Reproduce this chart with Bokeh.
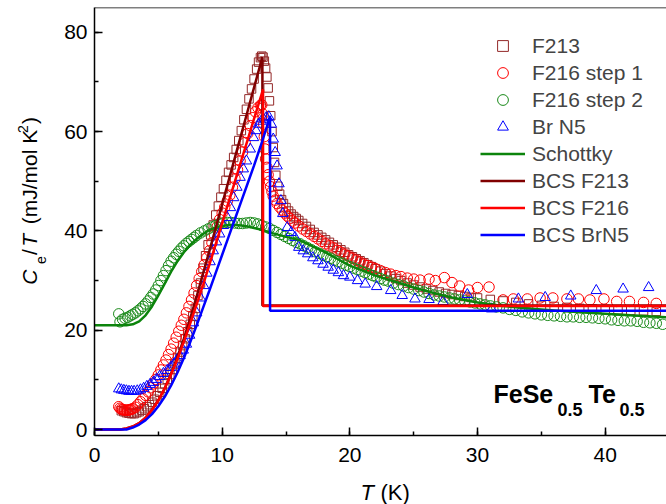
import math
from bokeh.plotting import figure
from bokeh.layouts import row, column
from bokeh.models import (Label, Legend, LegendItem, Span, SingleIntervalTicker)
from bokeh.embed import file_html
from bokeh.resources import INLINE

# ---------------- data ----------------
f213_T = [2.1, 2.3, 2.5, 2.7, 2.9, 3.1, 3.3, 3.5, 3.7, 3.9, 4.1, 4.3, 4.5, 4.7, 4.9, 5.1, 5.3, 5.5, 5.7, 5.9,
          6.1, 6.3, 6.5, 6.7, 6.9, 7.1, 7.3, 7.5, 7.7, 7.9, 8.1, 8.3, 8.5, 8.7, 8.9, 9.1, 9.3, 9.5, 9.7, 9.9,
          10.1, 10.3, 10.5, 10.7, 10.9, 11.1, 11.3, 11.5, 11.7, 11.9, 12.1, 12.3, 12.5, 12.7, 12.85, 13.0, 13.1,
          13.2, 13.3, 13.4, 13.5, 13.6, 13.7, 13.8, 13.9, 14.0, 14.1, 14.2, 14.35, 14.5, 14.65, 14.8, 15.0, 15.2,
          15.4, 15.6, 15.8, 16.0, 16.3, 16.6, 16.9, 17.2, 17.5, 17.8, 18.1, 18.4, 18.7, 19.0, 19.3, 19.6, 19.9,
          20.2, 20.5, 20.8, 21.1, 21.4, 21.7, 22.0, 22.4, 22.8, 23.2, 23.6, 24.0, 24.5, 25.0, 25.5, 26.0, 26.5,
          27.0, 27.5, 28.0, 28.5, 29.0, 29.5, 30.0, 31.0, 32.0, 33.0, 34.0, 35.0, 36.0, 37.0, 38.0, 39.0, 40.0,
          41.0, 42.0, 43.0, 44.0]
f213_C = [3.8, 3.6, 3.4, 3.3, 3.2, 3.2, 3.4, 3.6, 3.9, 4.2, 4.6, 5.0, 5.5, 6.1, 6.8, 7.5, 8.3, 9.2, 10.1, 11.1,
          12.1, 13.2, 14.4, 15.6, 16.9, 18.3, 19.7, 21.2, 22.8, 24.4, 27.0, 29.5, 32.5, 35.0, 37.2, 39.2, 41.2,
          43.2, 45.0, 46.8, 48.5, 50.2, 51.8, 53.3, 54.8, 56.4, 58.2, 60.2, 62.4, 64.5, 66.6, 68.6, 70.6, 72.6,
          74.0, 74.9, 75.2,
          75.0, 74.2, 72.8, 71.0, 68.8, 66.2, 63.2, 60.0, 56.8, 53.8, 51.2, 49.0, 47.4, 46.3, 45.5, 44.7, 44.0,
          43.4, 42.9, 42.5, 42.1, 41.5, 40.9, 40.3, 39.7, 39.2, 38.7, 38.2, 37.7, 37.2, 36.7, 36.2, 35.7, 35.2,
          34.8, 34.4, 34.0, 33.6, 33.2, 32.8, 32.4, 31.9, 31.4, 30.9, 30.4, 30.0, 29.5, 29.1, 28.7, 28.3, 28.0,
          27.7, 27.4, 27.2, 27.0, 26.8, 26.6, 26.5, 26.2, 25.9, 25.6, 25.3, 25.0, 24.8, 24.6, 24.4, 24.3, 24.2,
          24.1, 24.0, 23.9, 23.8]

s1_T = [1.9, 2.0, 2.1, 2.2, 2.3, 2.4, 2.5, 2.6, 2.7, 2.8, 2.9, 3.0, 3.2, 3.4, 3.6, 3.8, 4.0, 4.2, 4.4, 4.6,
        4.8, 5.0, 5.2, 5.4, 5.6, 5.8, 6.0, 6.2, 6.4, 6.6, 6.8, 7.0, 7.2, 7.4, 7.6, 7.8, 8.0, 8.2, 8.4, 8.6,
        8.8, 9.0, 9.2, 9.4, 9.6, 9.8, 10.0, 10.2, 10.4, 10.6, 10.8, 11.0, 11.2, 11.4, 11.6, 11.8, 12.0, 12.2,
        12.4, 12.6, 12.8, 13.0, 13.1,
        13.2, 13.25, 13.3, 13.35, 13.4, 13.5, 13.6, 13.7, 13.8, 13.9, 14.0, 14.15, 14.3, 14.5, 14.7, 14.9,
        15.1, 15.3, 15.5, 15.7, 16.0, 16.3, 16.6, 16.9, 17.2, 17.5, 17.8, 18.1, 18.4, 18.7, 19.0, 19.3, 19.6,
        19.9, 20.2, 20.5, 20.8, 21.1, 21.4, 21.7, 22.0, 22.4, 22.8, 23.2, 23.6, 24.0, 24.5, 25.0, 25.5, 26.2,
        26.7, 27.4, 28.0, 28.6, 29.3, 30.0, 30.9, 32.0, 32.8, 33.9, 34.9, 35.9, 37.0, 37.9, 38.8, 39.9, 40.9,
        41.9, 43.0, 44.0]
s1_C = [4.6, 4.3, 4.1, 4.0, 3.95, 3.9, 3.9, 3.9, 3.95, 4.0, 4.1, 4.2, 4.5, 5.0, 5.6, 6.2, 6.9, 7.6, 8.4, 9.2,
        10.1, 11.0, 12.0, 13.0, 14.0, 15.1, 16.2, 17.4, 18.6, 19.8, 21.0, 22.2, 23.5, 24.8, 26.1, 27.5, 29.0,
        30.4, 31.8, 33.2, 34.6, 36.0, 37.6, 39.2, 40.8, 42.3, 43.6, 44.8, 46.0, 47.2, 48.8, 50.5, 52.3, 54.1,
        55.9, 57.8, 59.6, 61.2, 62.8, 64.0, 64.8, 65.3, 65.4,
        63.5, 61.5, 59.0, 56.5, 54.5, 52.8, 51.3, 50.0, 48.9, 47.9, 47.0, 46.2, 45.5, 44.8, 44.2, 43.6, 43.0,
        42.5, 42.0, 41.6, 41.0, 40.4, 39.9, 39.4, 38.9, 38.4, 37.9, 37.4, 37.0, 36.6, 36.1, 35.7, 35.3, 34.9,
        34.5, 34.1, 33.7, 33.3, 33.0, 32.7, 32.4, 32.0, 31.6, 31.3, 31.0, 30.8, 30.5, 30.3, 30.1, 30.3, 30.0,
        30.6, 29.6, 28.9, 28.1, 28.6, 28.7, 26.1, 26.3, 26.3, 26.5, 26.5, 26.3, 26.3, 26.1, 26.3, 25.8, 25.8,
        25.6, 25.4]

s2_T = [1.9, 2.0, 2.2, 2.4, 2.6, 2.8, 3.0, 3.2, 3.4, 3.6, 3.8, 4.0, 4.2, 4.4, 4.6, 4.8, 5.0, 5.2, 5.4, 5.6,
        5.8, 6.0, 6.2, 6.4, 6.6, 6.8, 7.0, 7.2, 7.4, 7.6, 7.8, 8.0, 8.3, 8.6, 8.9, 9.2, 9.5, 9.8, 10.1, 10.4,
        10.7, 11.0, 11.3, 11.6, 11.9, 12.2, 12.5, 12.8, 13.1, 13.4, 13.7, 14.0, 14.3, 14.6, 14.9, 15.2, 15.5,
        15.8, 16.1, 16.4, 16.7, 17.0, 17.3, 17.6, 17.9, 18.2, 18.5, 18.8, 19.1, 19.4, 19.7, 20.0, 20.3, 20.6,
        20.9, 21.2, 21.5, 21.8, 22.1, 22.4, 22.7, 23.0, 23.4, 23.8, 24.2, 24.6, 25.0, 25.4, 25.8, 26.2, 26.6,
        27.0, 27.4, 27.8, 28.2, 28.6, 29.0, 29.4, 29.8, 30.2, 30.6, 31.0, 31.5, 32.0, 32.5, 33.0, 33.5, 34.0,
        34.5, 35.0, 35.5, 36.0, 36.5, 37.0, 37.5, 38.0, 38.5, 39.0, 39.5, 40.0, 40.5, 41.0, 41.5, 42.0, 42.5,
        43.0, 43.5, 44.0, 44.5]
s2_C = [23.3, 21.7, 22.2, 22.4, 22.6, 22.9, 23.2, 23.5, 23.9, 24.3, 24.8, 25.3, 25.9, 26.6, 27.3, 28.1, 29.0,
        30.0, 31.0, 32.0, 33.0, 33.9, 34.6, 35.3, 35.9, 36.5, 37.0, 37.5, 37.9, 38.3, 38.7, 39.1, 39.6, 40.0,
        40.4, 40.8, 41.1, 41.4, 41.6, 41.7, 41.7, 41.6, 41.5, 41.5, 41.6, 41.7, 41.6, 41.4, 41.1, 40.8, 40.5,
        40.1, 39.7, 39.3, 38.9, 38.5, 38.1, 37.7, 37.4, 37.0, 36.6, 36.2, 35.8, 35.5, 35.1, 34.8, 34.5, 34.1,
        33.8, 33.5, 33.1, 32.8, 32.5, 32.2, 31.9, 31.6, 31.3, 31.0, 30.7, 30.4, 30.1, 29.9, 29.5, 29.2, 28.9,
        28.6, 28.3, 28.0, 27.7, 27.4, 27.1, 26.9, 26.7, 26.5, 26.3, 26.1, 25.9, 25.7, 25.5, 25.3, 25.1, 24.9,
        24.7, 24.5, 24.2, 24.0, 23.7, 23.5, 23.3, 23.1, 23.0, 22.9, 22.8, 22.7, 22.7, 22.6, 22.6, 22.5, 22.4,
        22.3, 22.1, 22.0, 21.9, 21.9, 21.8, 21.6, 21.5, 21.4, 21.2]

br_T = [1.9, 2.1, 2.3, 2.5, 2.7, 2.9, 3.1, 3.35, 3.6, 3.85, 4.1, 4.35, 4.6, 4.85, 5.1, 5.4, 5.7, 5.95, 6.2,
        6.45, 6.7, 6.95, 7.2, 7.45, 7.75, 8.0, 8.3, 8.55, 8.8, 9.05, 9.3, 9.55, 9.8, 10.1, 10.4, 10.65, 10.9,
        11.15, 11.4, 11.65, 11.9, 12.2, 12.45, 12.65, 12.85, 13.05, 13.25, 13.45, 13.65, 13.85, 14.0, 14.15,
        14.3, 14.45, 14.6, 14.75, 15.1, 15.4, 15.7, 16.0, 16.35, 16.7, 17.1, 17.5, 17.9, 18.3, 18.7, 19.1,
        19.5, 20.0, 20.6, 21.2, 22.1, 23.2, 24.1, 25.1, 26.2, 27.3, 29.2, 31.1, 33.2, 35.3, 37.3, 39.3, 41.4,
        43.4]
br_C = [8.2, 8.0, 7.9, 7.8, 7.7, 7.7, 7.7, 7.8, 8.0, 8.3, 8.7, 9.1, 9.5, 10.1, 10.7, 11.3, 11.9, 12.5, 13.2,
        14.0, 14.9, 16.0, 17.2, 19.0, 21.5, 23.5, 26.5, 29.0, 31.5, 33.8, 36.0, 37.8, 39.4, 41.1, 42.7, 44.7,
        46.7, 48.8, 50.8, 52.5, 54.1, 56.5, 58.8, 60.2, 61.5, 62.1, 62.5, 62.8, 63.0, 61.5, 58.5, 55.8, 53.1,
        49.5, 46.1, 43.5, 40.7, 39.7, 38.7, 36.7, 36.0, 35.4, 34.6, 34.0, 33.3, 32.7, 32.1, 31.6, 31.0, 30.7,
        30.0, 29.3, 28.8, 28.0, 27.0, 26.3, 26.2, 25.8, 27.2, 24.3, 26.3, 26.6, 26.9, 28.0, 28.3, 28.6]

sch_T = [0, 1, 2, 2.5, 3, 3.5, 4, 4.5, 5, 5.5, 6, 6.5, 7, 7.5, 8, 8.5, 9, 9.5, 10, 10.5, 11, 11.5, 12, 12.5,
         13, 14, 15, 16, 17, 18, 19, 20, 21, 22, 23, 24, 25, 26, 27, 28, 29, 30, 32, 34, 36, 38, 40, 42, 44.8]
sch_C = [21.0, 21.0, 21.0, 21.0, 21.2, 21.8, 23.0, 24.8, 27.0, 29.4, 31.8, 33.9, 35.7, 37.2, 38.4, 39.4, 40.2,
         40.7, 41.0, 41.2, 41.2, 41.1, 40.9, 40.6, 40.3, 39.5, 38.8, 38.2, 37.0, 35.8, 34.4, 33.0, 32.0, 31.0,
         30.2, 29.4, 28.6, 27.9, 27.2, 26.6, 26.1, 25.6, 24.9, 24.4, 24.0, 23.6, 23.3, 23.0, 22.6]

bcs213_T = [0, 1, 2, 2.5, 3, 3.5, 4, 4.5, 5, 5.5, 6, 6.5, 7, 7.5, 8, 8.5, 9, 9.5, 10, 10.5, 11, 11.5, 12,
            12.5, 13, 13.15, 13.15, 44.8]
bcs213_C = [0, 0, 0.03, 0.2, 0.6, 1.3, 2.4, 3.9, 5.9, 8.3, 11.3, 14.6, 18.3, 22.4, 26.8, 31.4, 36.0, 40.7,
            45.4, 50.1, 54.8, 59.5, 64.2, 68.9, 73.6, 75.0, 25.0, 25.0]
bcs216_T = [0, 1, 2, 2.5, 3, 3.5, 4, 4.5, 5, 5.5, 6, 6.5, 7, 7.5, 8, 8.5, 9, 9.5, 10, 10.5, 11, 11.5, 12,
            12.5, 13, 13.2, 13.2, 44.8]
bcs216_C = [0, 0, 0.03, 0.2, 0.6, 1.3, 2.4, 3.9, 5.9, 8.3, 11.1, 14.2, 17.7, 21.4, 25.2, 29.1, 33.2, 37.4,
            41.6, 45.8, 50.0, 54.2, 58.4, 62.6, 66.8, 68.5, 24.9, 24.9]
bcsbr_T = [0, 1, 2, 2.5, 3, 3.5, 4, 4.5, 5, 5.5, 6, 6.5, 7, 7.5, 8, 8.5, 9, 9.5, 10, 10.5, 11, 11.5, 12,
           12.5, 13, 13.5, 13.75, 13.75, 44.8]
bcsbr_C = [0, 0, 0, 0, 0.4, 1.0, 1.9, 3.1, 4.7, 6.6, 8.9, 11.5, 14.4, 17.6, 21.0, 24.5, 28.0, 31.6, 35.2,
           38.8, 42.4, 46.0, 49.6, 53.2, 57.0, 61.0, 63.2, 23.9, 23.9]

legend_labels = ["F213", "F216 step 1", "F216 step 2", "Br N5", "Schottky", "BCS F213", "BCS F216", "BCS BrN5"]
x_ticks_interval = 10
y_ticks_interval = 20

# ---------------- layout ----------------
FONT = "Liberation Sans"
PAGE_W, PAGE_H = 666, 504
YL_W = 60          # left strip (y title)
XL_H = 30          # bottom strip (x title), full page width
X0, X1 = 0, 44.8
Y0, Y1 = -1.2, 85
MAIN_W = PAGE_W - YL_W
MAIN_H = PAGE_H - XL_H
F_LEFT, F_TOP = 94 - YL_W, 7
F_BOTTOM = MAIN_H - 435
FW = MAIN_W - F_LEFT
FH = MAIN_H - F_TOP - F_BOTTOM


def px2x(px):  # page px -> main data x
    return X0 + (px - 94) * (X1 - X0) / FW


def py2y(py):  # page px -> main data y
    return Y1 - (py - F_TOP) * (Y1 - Y0) / FH


p = figure(width=MAIN_W, height=MAIN_H, x_range=(X0, X1), y_range=(Y0, Y1),
           output_backend="svg", toolbar_location=None,
           min_border_left=F_LEFT, min_border_right=0, min_border_top=F_TOP, min_border_bottom=F_BOTTOM)
p.outline_line_color = None
p.grid.visible = False

for ax, iv, so in ((p.xaxis[0], x_ticks_interval, 12), (p.yaxis[0], y_ticks_interval, 7)):
    ax.ticker = SingleIntervalTicker(interval=iv, num_minor_ticks=2)
    ax.major_tick_in = 8
    ax.major_tick_out = 0
    ax.minor_tick_in = 4
    ax.minor_tick_out = 0
    ax.axis_line_width = 1.5
    ax.major_tick_line_width = 1.5
    ax.minor_tick_line_width = 1.5
    ax.axis_line_color = "black"
    ax.major_label_text_font = FONT
    ax.major_label_text_font_size = "21px"
    ax.major_label_text_color = "black"
    ax.major_label_standoff = so

p.add_layout(Span(location=Y1, dimension="width", line_color="black", line_width=1.5))

DR_M = "#932828"
DR_L = "#800000"
RED = "#FF0000"
GRN_M = "#1A8A1A"
GRN_L = "#0C840C"
BLU = "#0000FF"

r1 = p.scatter(f213_T, f213_C, marker="square", size=8.5, fill_color=None, line_color=DR_M, line_width=1)
r2 = p.scatter(s1_T, s1_C, marker="circle", size=10.5, fill_color=None, line_color=RED, line_width=1)
r3 = p.scatter(s2_T, s2_C, marker="circle", size=10.5, fill_color=None, line_color=GRN_M, line_width=1)
r4 = p.scatter(br_T, br_C, marker="triangle", size=10.5, fill_color=None, line_color=BLU, line_width=1)
r5 = p.line(sch_T, sch_C, line_color=GRN_L, line_width=2.5)
r6 = p.line(bcs213_T, bcs213_C, line_color=DR_L, line_width=2.5)
r7 = p.line(bcs216_T, bcs216_C, line_color=RED, line_width=2.5)
r8 = p.line(bcsbr_T, bcsbr_C, line_color=BLU, line_width=2.5)

legend = Legend(items=[LegendItem(label=l, renderers=[r]) for l, r in
                       zip(legend_labels, [r1, r2, r3, r4, r5, r6, r7, r8])],
                location=(386, 187), padding=0, margin=0, spacing=0,
                glyph_width=45, glyph_height=27, label_height=27, label_standoff=7,
                label_text_font=FONT, label_text_font_size="21px",
                border_line_color=None, background_fill_alpha=0)
p.add_layout(legend)

for txt, px, py, size in [("FeSe", 493, 393, "25px"), ("0.5", 557, 409, "18px"),
                          ("Te", 588, 393, "25px"), ("0.5", 619, 409, "18px")]:
    p.add_layout(Label(x=px2x(px), y=py2y(py), text=txt, text_font=FONT, text_font_size=size,
                       text_font_style="bold", text_align="left", text_baseline="middle",
                       text_color="black"))


def strip(w, h):
    # frame covers the whole strip: data units are page pixels (y counted from the strip's bottom)
    f = figure(width=w, height=h, x_range=(0, w), y_range=(0, h), output_backend="svg",
               toolbar_location=None, x_axis_location=None, y_axis_location=None,
               min_border_left=0, min_border_right=0, min_border_top=0, min_border_bottom=0)
    f.outline_line_color = None
    f.grid.visible = False
    return f


# y-axis title: C_e/T (mJ/mol K^2), rotated, pieces centred on given x
yfig = strip(YL_W, MAIN_H)
for txt, py, size, style, cx in [("C", 307, "21px", "italic", 29), ("e", 284, "14px", "normal", 40),
                                  ("/", 274, "21px", "normal", 29), ("T", 265, "21px", "italic", 29),
                                  ("(mJ/mol K", 240, "21px", "normal", 29), ("2", 139, "14px", "normal", 22),
                                  (")", 129, "21px", "normal", 29)]:
    yfig.add_layout(Label(x=cx, y=MAIN_H - py, text=txt, angle=math.pi / 2,
                          text_font=FONT, text_font_size=size, text_font_style=style,
                          text_align="left", text_baseline="middle", text_color="black"))

# x-axis title: T (K)
xfig = strip(PAGE_W, XL_H)
for txt, px, style in [("T", 360, "italic"), ("(K)", 380, "normal")]:
    xfig.add_layout(Label(x=px, y=PAGE_H - 492, text=txt, text_font=FONT, text_font_size="22px",
                          text_font_style=style, text_align="left", text_baseline="middle",
                          text_color="black"))

layout = column(row(yfig, p, spacing=0), xfig, spacing=0)
open("out.html", "w").write(file_html(layout, INLINE))
